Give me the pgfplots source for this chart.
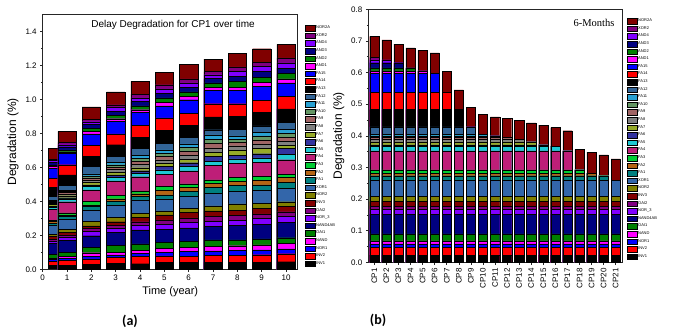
\documentclass[border=0pt]{standalone}
\usepackage{fontspec}
\setmainfont{Liberation Sans}
\newfontfamily\serifx{Liberation Serif}
\newfontfamily\calib{Carlito}
\usepackage{pgfplots}
\usepackage{pgfplotstable}
\pgfplotsset{compat=1.18}

\definecolor{k1}{RGB}{0,0,0}
\definecolor{k2}{RGB}{255,0,0}
\definecolor{k3}{RGB}{0,0,255}
\definecolor{k4}{RGB}{255,0,255}
\definecolor{k5}{RGB}{0,128,0}
\definecolor{k6}{RGB}{0,0,128}
\definecolor{k7}{RGB}{128,0,255}
\definecolor{k8}{RGB}{128,0,128}
\definecolor{k9}{RGB}{128,0,0}
\definecolor{k10}{RGB}{128,128,0}
\definecolor{k11}{RGB}{51,102,170}
\definecolor{k12}{RGB}{0,128,128}
\definecolor{k13}{RGB}{180,100,20}
\definecolor{k14}{RGB}{0,204,51}
\definecolor{k15}{RGB}{190,30,120}
\definecolor{k16}{RGB}{30,200,210}
\definecolor{k17}{RGB}{50,50,160}
\definecolor{k18}{RGB}{150,170,40}
\definecolor{k19}{RGB}{128,128,128}
\definecolor{k20}{RGB}{160,100,100}
\definecolor{k21}{RGB}{100,150,100}
\definecolor{k22}{RGB}{40,160,210}
\definecolor{k23}{RGB}{50,100,150}
\definecolor{k24}{RGB}{0,0,0}
\definecolor{k25}{RGB}{255,0,0}
\definecolor{k26}{RGB}{0,0,255}
\definecolor{k27}{RGB}{255,0,255}
\definecolor{k28}{RGB}{0,128,0}
\definecolor{k29}{RGB}{0,0,128}
\definecolor{k30}{RGB}{128,0,255}
\definecolor{k31}{RGB}{128,0,128}
\definecolor{k32}{RGB}{128,0,0}

% cumulative tops of each segment (INV1 ... NOR2A), chart (a), 6 months
\pgfplotstableread{
x c1 c2 c3 c4 c5 c6 c7 c8 c9 c10 c11 c12 c13 c14 c15 c16 c17 c18 c19 c20 c21 c22 c23 c24 c25 c26 c27 c28 c29 c30 c31 c32
0.6 0.023 0.047 0.058 0.068 0.090 0.152 0.168 0.178 0.193 0.208 0.260 0.274 0.281 0.292 0.352 0.366 0.371 0.381 0.389 0.395 0.400 0.404 0.428 0.483 0.538 0.598 0.605 0.615 0.631 0.640 0.648 0.714
}\tA
% chart (a), years 1..10
\pgfplotstableread{
x c1 c2 c3 c4 c5 c6 c7 c8 c9 c10 c11 c12 c13 c14 c15 c16 c17 c18 c19 c20 c21 c22 c23 c24 c25 c26 c27 c28 c29 c30 c31 c32
1 0.025 0.052 0.065 0.077 0.100 0.172 0.190 0.202 0.218 0.235 0.295 0.311 0.320 0.332 0.398 0.414 0.421 0.433 0.443 0.451 0.458 0.464 0.495 0.556 0.615 0.682 0.691 0.703 0.721 0.733 0.746 0.811
2 0.030 0.061 0.078 0.098 0.130 0.198 0.222 0.241 0.255 0.281 0.346 0.369 0.379 0.399 0.467 0.487 0.497 0.510 0.525 0.538 0.550 0.562 0.605 0.664 0.728 0.797 0.811 0.831 0.852 0.868 0.884 0.955
3 0.035 0.070 0.085 0.100 0.140 0.216 0.240 0.260 0.280 0.305 0.379 0.400 0.415 0.437 0.520 0.540 0.555 0.571 0.587 0.601 0.615 0.628 0.664 0.733 0.797 0.870 0.886 0.905 0.929 0.953 0.968 1.043
4 0.033 0.075 0.094 0.112 0.149 0.232 0.260 0.280 0.305 0.330 0.408 0.430 0.445 0.462 0.545 0.566 0.580 0.598 0.616 0.634 0.652 0.672 0.710 0.778 0.846 0.923 0.939 0.962 0.988 1.008 1.031 1.106
5 0.041 0.079 0.100 0.124 0.159 0.234 0.265 0.291 0.320 0.344 0.414 0.438 0.463 0.487 0.560 0.585 0.605 0.625 0.645 0.665 0.683 0.703 0.742 0.817 0.890 0.962 0.982 1.008 1.037 1.061 1.086 1.159
6 0.041 0.077 0.104 0.130 0.165 0.244 0.275 0.302 0.334 0.359 0.430 0.458 0.481 0.503 0.579 0.604 0.627 0.648 0.672 0.694 0.716 0.738 0.775 0.846 0.919 0.998 1.017 1.043 1.070 1.096 1.120 1.204
7 0.041 0.084 0.108 0.137 0.173 0.253 0.283 0.312 0.344 0.373 0.448 0.483 0.507 0.526 0.611 0.637 0.663 0.688 0.714 0.740 0.765 0.791 0.821 0.896 0.974 1.051 1.070 1.096 1.122 1.145 1.163 1.237
8 0.041 0.084 0.110 0.139 0.173 0.257 0.289 0.318 0.348 0.385 0.460 0.493 0.517 0.542 0.625 0.650 0.672 0.700 0.727 0.746 0.766 0.785 0.825 0.899 0.974 1.052 1.072 1.105 1.135 1.164 1.190 1.269
9 0.042 0.086 0.114 0.143 0.179 0.263 0.300 0.326 0.359 0.389 0.464 0.497 0.522 0.546 0.630 0.655 0.680 0.713 0.738 0.762 0.785 0.805 0.844 0.923 0.994 1.076 1.100 1.131 1.164 1.194 1.217 1.298
10 0.045 0.092 0.120 0.151 0.186 0.275 0.310 0.339 0.369 0.398 0.477 0.513 0.540 0.560 0.645 0.675 0.710 0.731 0.754 0.778 0.801 0.825 0.864 0.943 1.017 1.096 1.120 1.151 1.184 1.214 1.243 1.323
}\tB
% chart (b), CP1..CP21 (6 months)
\pgfplotstableread{
x c1 c2 c3 c4 c5 c6 c7 c8 c9 c10 c11 c12 c13 c14 c15 c16 c17 c18 c19 c20 c21 c22 c23 c24 c25 c26 c27 c28 c29 c30 c31 c32
1 0.023 0.047 0.058 0.068 0.090 0.152 0.168 0.178 0.193 0.208 0.260 0.274 0.281 0.292 0.352 0.366 0.371 0.381 0.389 0.395 0.400 0.404 0.428 0.483 0.538 0.598 0.605 0.615 0.631 0.640 0.648 0.714
2 0.023 0.047 0.058 0.068 0.090 0.152 0.168 0.178 0.193 0.208 0.260 0.274 0.281 0.292 0.352 0.366 0.371 0.381 0.389 0.395 0.400 0.404 0.428 0.483 0.538 0.598 0.605 0.615 0.631 0.640 0.640 0.703
3 0.023 0.047 0.058 0.068 0.090 0.152 0.168 0.178 0.193 0.208 0.260 0.274 0.281 0.292 0.352 0.366 0.371 0.381 0.389 0.395 0.400 0.404 0.428 0.483 0.538 0.598 0.605 0.615 0.631 0.631 0.631 0.690
4 0.023 0.047 0.058 0.068 0.090 0.152 0.168 0.178 0.193 0.208 0.260 0.274 0.281 0.292 0.352 0.366 0.371 0.381 0.389 0.395 0.400 0.404 0.428 0.483 0.538 0.598 0.605 0.615 0.615 0.615 0.615 0.678
5 0.023 0.047 0.058 0.068 0.090 0.152 0.168 0.178 0.193 0.208 0.260 0.274 0.281 0.292 0.352 0.366 0.371 0.381 0.389 0.395 0.400 0.404 0.428 0.483 0.538 0.598 0.605 0.605 0.605 0.605 0.605 0.670
6 0.023 0.047 0.058 0.068 0.090 0.152 0.168 0.178 0.193 0.208 0.260 0.274 0.281 0.292 0.352 0.366 0.371 0.381 0.389 0.395 0.400 0.404 0.428 0.483 0.538 0.598 0.598 0.598 0.598 0.598 0.598 0.662
7 0.023 0.047 0.058 0.068 0.090 0.152 0.168 0.178 0.193 0.208 0.260 0.274 0.281 0.292 0.352 0.366 0.371 0.381 0.389 0.395 0.400 0.404 0.428 0.483 0.538 0.538 0.538 0.538 0.538 0.538 0.538 0.603
8 0.023 0.047 0.058 0.068 0.090 0.152 0.168 0.178 0.193 0.208 0.260 0.274 0.281 0.292 0.352 0.366 0.371 0.381 0.389 0.395 0.400 0.404 0.428 0.483 0.483 0.483 0.483 0.483 0.483 0.483 0.483 0.545
9 0.023 0.047 0.058 0.068 0.090 0.152 0.168 0.178 0.193 0.208 0.260 0.274 0.281 0.292 0.352 0.366 0.371 0.381 0.389 0.395 0.400 0.404 0.428 0.428 0.428 0.428 0.428 0.428 0.428 0.428 0.428 0.490
10 0.023 0.047 0.058 0.068 0.090 0.152 0.168 0.178 0.193 0.208 0.260 0.274 0.281 0.292 0.352 0.366 0.371 0.381 0.389 0.395 0.400 0.404 0.404 0.404 0.404 0.404 0.404 0.404 0.404 0.404 0.404 0.467
11 0.023 0.047 0.058 0.068 0.090 0.152 0.168 0.178 0.193 0.208 0.260 0.274 0.281 0.292 0.352 0.366 0.371 0.381 0.389 0.395 0.400 0.400 0.400 0.400 0.400 0.400 0.400 0.400 0.400 0.400 0.400 0.460
12 0.023 0.047 0.058 0.068 0.090 0.152 0.168 0.178 0.193 0.208 0.260 0.274 0.281 0.292 0.352 0.366 0.371 0.381 0.389 0.395 0.395 0.395 0.395 0.395 0.395 0.395 0.395 0.395 0.395 0.395 0.395 0.455
13 0.023 0.047 0.058 0.068 0.090 0.152 0.168 0.178 0.193 0.208 0.260 0.274 0.281 0.292 0.352 0.366 0.371 0.381 0.389 0.389 0.389 0.389 0.389 0.389 0.389 0.389 0.389 0.389 0.389 0.389 0.389 0.449
14 0.023 0.047 0.058 0.068 0.090 0.152 0.168 0.178 0.193 0.208 0.260 0.274 0.281 0.292 0.352 0.366 0.371 0.381 0.381 0.381 0.381 0.381 0.381 0.381 0.381 0.381 0.381 0.381 0.381 0.381 0.381 0.441
15 0.023 0.047 0.058 0.068 0.090 0.152 0.168 0.178 0.193 0.208 0.260 0.274 0.281 0.292 0.352 0.366 0.371 0.371 0.371 0.371 0.371 0.371 0.371 0.371 0.371 0.371 0.371 0.371 0.371 0.371 0.371 0.434
16 0.023 0.047 0.058 0.068 0.090 0.152 0.168 0.178 0.193 0.208 0.260 0.274 0.281 0.292 0.352 0.366 0.366 0.366 0.366 0.366 0.366 0.366 0.366 0.366 0.366 0.366 0.366 0.366 0.366 0.366 0.366 0.426
17 0.023 0.047 0.058 0.068 0.090 0.152 0.168 0.178 0.193 0.208 0.260 0.274 0.281 0.292 0.352 0.352 0.352 0.352 0.352 0.352 0.352 0.352 0.352 0.352 0.352 0.352 0.352 0.352 0.352 0.352 0.352 0.416
18 0.023 0.047 0.058 0.068 0.090 0.152 0.168 0.178 0.193 0.208 0.260 0.274 0.281 0.292 0.292 0.292 0.292 0.292 0.292 0.292 0.292 0.292 0.292 0.292 0.292 0.292 0.292 0.292 0.292 0.292 0.292 0.357
19 0.023 0.047 0.058 0.068 0.090 0.152 0.168 0.178 0.193 0.208 0.260 0.274 0.281 0.281 0.281 0.281 0.281 0.281 0.281 0.281 0.281 0.281 0.281 0.281 0.281 0.281 0.281 0.281 0.281 0.281 0.281 0.348
20 0.023 0.047 0.058 0.068 0.090 0.152 0.168 0.178 0.193 0.208 0.260 0.274 0.274 0.274 0.274 0.274 0.274 0.274 0.274 0.274 0.274 0.274 0.274 0.274 0.274 0.274 0.274 0.274 0.274 0.274 0.274 0.340
21 0.023 0.047 0.058 0.068 0.090 0.152 0.168 0.178 0.193 0.208 0.260 0.260 0.260 0.260 0.260 0.260 0.260 0.260 0.260 0.260 0.260 0.260 0.260 0.260 0.260 0.260 0.260 0.260 0.260 0.260 0.260 0.327
}\tC

\pgfplotsset{
  segst/.style={fill=k#1, draw=black, line width=0.25pt, bar shift=0pt,
    legend image code/.code={\draw[##1] (0pt,-2.75pt) rectangle (10pt,2.75pt);}},
  base/.style={scale only axis, ybar, ymin=0,
    axis line style={black!85, line width=0.6pt},
    tick align=outside, tick pos=left, major tick length=2.5pt, minor tick length=1.5pt,
    tick style={black!85, line width=0.5pt},
    ticklabel style={font=\fontsize{8}{9}\selectfont},
    /pgf/number format/assume math mode=true,
    yticklabel style={/pgf/number format/fixed, /pgf/number format/fixed zerofill, /pgf/number format/precision=1},
    label style={font=\fontsize{12}{13}\selectfont},
    legend cell align=left,
    legend style={draw=none, fill=none, inner sep=0pt, font=\fontsize{4}{4.5}\selectfont,
      row sep=1.85pt, nodes={inner sep=0.7pt}}},
  chartA/.style={base, width=255pt, height=255pt, xmin=0, xmax=10.48, ymax=1.5, bar width=0.75},
  chartB/.style={base, width=254.4pt, height=253pt, xmin=0.5, xmax=21.58, ymax=0.8, bar width=0.77}
}
\newcommand\sg[2]{\addplot[segst=#1] table[x=x,y=c#1]{#2};}
\newcommand\allsegs[1]{\sg{32}{#1}\sg{31}{#1}\sg{30}{#1}\sg{29}{#1}\sg{28}{#1}\sg{27}{#1}\sg{26}{#1}\sg{25}{#1}%
\sg{24}{#1}\sg{23}{#1}\sg{22}{#1}\sg{21}{#1}\sg{20}{#1}\sg{19}{#1}\sg{18}{#1}\sg{17}{#1}\sg{16}{#1}\sg{15}{#1}%
\sg{14}{#1}\sg{13}{#1}\sg{12}{#1}\sg{11}{#1}\sg{10}{#1}\sg{9}{#1}\sg{8}{#1}\sg{7}{#1}\sg{6}{#1}\sg{5}{#1}%
\sg{4}{#1}\sg{3}{#1}\sg{2}{#1}\sg{1}{#1}}
\newcommand\legnames{NOR2A,XOR2,AND4,AND3,AND2,AND1,FA15,FA14,FA13,FA12,FA11,FA10,FA9,FA8,FA7,FA6,FA5,FA4,FA3,FA2,FA1,XOR1,NOR2,INV3,OAI2,NOR\_3,NAND4AB,OAI1,NAND,NOR1,INV2,INV1}

\begin{document}
\begin{tikzpicture}[x=1pt,y=1pt]
\path (0,0) rectangle (681,331);
% chart (a): 6-month bar, drawn first (behind)
\begin{axis}[chartA, at={(42.7pt,61.7pt)}, anchor=south west, hide axis]
\allsegs{\tA}
\end{axis}
% chart (a): years 1..10
\begin{axis}[chartA, at={(42.7pt,61.7pt)}, anchor=south west,
  xtick={0,1,...,10}, ytick={0,0.2,...,1.4}, minor y tick num=1,
  xlabel={Time (year)}, ylabel={Degradation (\%)},
  xlabel style={font=\fontsize{11}{12}\selectfont, yshift=1pt},
  legend style={at={(axis description cs:1.0286,0.958)}, anchor=north west},
  legend entries/.expanded={\legnames}]
\allsegs{\tB}
\node[font=\fontsize{10}{11}\selectfont] at (axis description cs:0.511,0.958) {Delay Degradation for CP1 over time};
\end{axis}
% chart (b)
\begin{axis}[chartB, at={(368.3pt,68.7pt)}, anchor=south west,
  xtick={1,...,21}, xticklabels={CP1,CP2,CP3,CP4,CP5,CP6,CP7,CP8,CP9,CP10,CP11,CP12,CP13,CP14,CP15,CP16,CP17,CP18,CP19,CP20,CP21},
  xticklabel style={rotate=90, anchor=east},
  ytick={0,0.1,...,0.8}, minor y tick num=1,
  ylabel={Degradation (\%)},
  legend style={at={(axis description cs:1.0169,0.9656)}, anchor=north west},
  legend entries/.expanded={\legnames}]
\allsegs{\tC}
\node[font=\serifx\fontsize{10.5}{11}\selectfont] at (axis description cs:0.887,0.946) {6-Months};
\end{axis}
\node[font=\calib\bfseries\fontsize{14}{15}\selectfont] at (130,10) {(a)};
\node[font=\calib\bfseries\fontsize{14}{15}\selectfont] at (378,11) {(b)};
\end{tikzpicture}
\end{document}
